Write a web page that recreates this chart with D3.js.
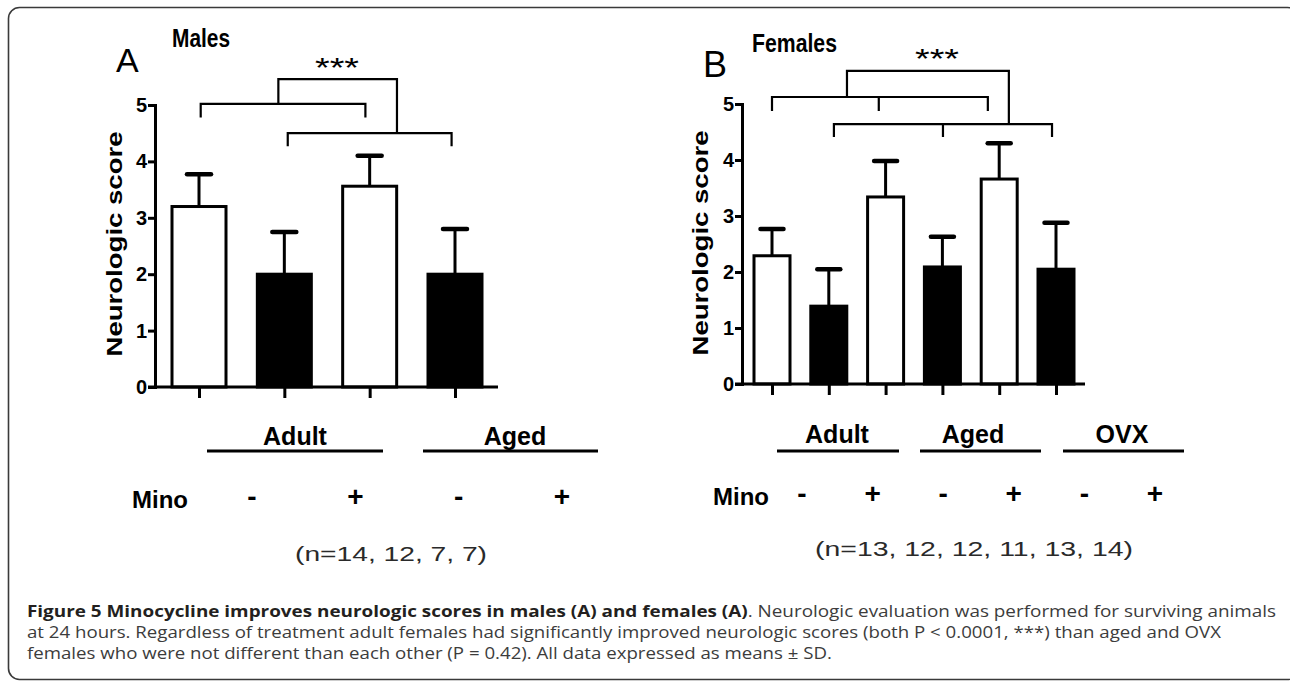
<!DOCTYPE html>
<html>
<head>
<meta charset="utf-8">
<script src="https://cdn.jsdelivr.net/npm/d3@7"></script>
<style>
  body { margin: 0; background: #fff; }
  svg { display: block; }
</style>
</head>
<body>
<svg id="fig" width="1290" height="685"></svg>
<script>
  // ===== data =====
  var yTicks = [0, 1, 2, 3, 4, 5];

  var maleGroups = ['Adult', 'Aged'];
  var maleMino = ['-', '+', '-', '+'];
  var maleMeans = [3.20, 2.00, 3.56, 2.00];
  var maleSD = [0.57, 0.75, 0.54, 0.80];
  var maleN = [14, 12, 7, 7];

  var femaleGroups = ['Adult', 'Aged', 'OVX'];
  var femaleMino = ['-', '+', '-', '+', '-', '+'];
  var femaleMeans = [2.29, 1.39, 3.34, 2.09, 3.66, 2.05];
  var femaleSD = [0.48, 0.66, 0.64, 0.54, 0.64, 0.83];
  var femaleN = [13, 12, 12, 11, 13, 14];

  var captionBold = 'Figure 5 Minocycline improves neurologic scores in males (A) and females (A)';
  var captionRest = '. Neurologic evaluation was performed for surviving animals';
  var captionLine2 = 'at 24 hours. Regardless of treatment adult females had significantly improved neurologic scores (both P < 0.0001, ***) than aged and OVX';
  var captionLine3 = 'females who were not different than each other (P = 0.42). All data expressed as means \u00b1 SD.';

  var CHART_FONT = '"Liberation Sans", Arial, sans-serif';
  var CAPTION_FONT = '"Open Sans", "Noto Sans", sans-serif';

  var svg = d3.select('#fig');

  // 外框（右侧超出画面）
  svg.append('rect')
    .attr('x', 8.5).attr('y', 7.5)
    .attr('width', 1290).attr('height', 672)
    .attr('rx', 11).attr('ry', 11)
    .attr('fill', 'none')
    .attr('stroke', '#3a3a3a')
    .attr('stroke-width', 1.6);

  // ===== panel layout =====
  var panels = [
    {
      letter: 'A', letterX: 116, letterY: 72, letterSize: 34,
      title: 'Males', titleX: 172, titleY: 47, titleW: 58,
      means: maleMeans, sd: maleSD, mino: maleMino, groups: maleGroups, n: maleN,
      axisX: 155, axisEnd: 498, y0: 387, y5: 105,
      barFirst: 199, barLast: 455, barW: 54, capW: 24,
      ylabelX: 122, ylabelY: 244,
      groupX: [295, 515], groupLines: [[207, 383], [423, 598]], groupY: 445, lineY: 451,
      minoX: 132, minoY: 508, signRange: [252, 562], signY: 506,
      nX: 391, nY: 561, nW: 192,
      starsX: 337, starsY: 77,
      brackets: [
        { from: 0.02, to: 1.95, mids: [], y: 5.02, leg: 4.78 },
        { from: 1.04, to: 2.96, mids: [], y: 4.50, leg: 4.27 }
      ],
      connector: { from: 0.93, to: 2.32, top: 5.46, left: 5.02, right: 4.50 }
    },
    {
      letter: 'B', letterX: 703, letterY: 77, letterSize: 36,
      title: 'Females', titleX: 752, titleY: 52, titleW: 85,
      means: femaleMeans, sd: femaleSD, mino: femaleMino, groups: femaleGroups, n: femaleN,
      axisX: 742, axisEnd: 1085, y0: 384, y5: 104,
      barFirst: 772, barLast: 1056, barW: 36, capW: 23,
      ylabelX: 708, ylabelY: 243,
      groupX: [837, 973, 1122], groupLines: [[777, 899], [920, 1041], [1063, 1184]], groupY: 443, lineY: 451,
      minoX: 713, minoY: 505, signRange: [802, 1155], signY: 503,
      nX: 974, nY: 556, nW: 318,
      starsX: 937, starsY: 68,
      brackets: [
        { from: 0.0, to: 3.8, mids: [1.88], y: 5.125, leg: 4.875 },
        { from: 1.09, to: 4.93, mids: [3.01], y: 4.64, leg: 4.41 }
      ],
      connector: { from: 1.32, to: 4.17, top: 5.59, left: 5.125, right: 4.64 }
    }
  ];

  panels.forEach(drawPanel);

  function drawPanel(p) {
    var g = svg.append('g').style('font-family', CHART_FONT);
    var idx = d3.range(p.means.length);

    var y = d3.scaleLinear().domain([0, 5]).range([p.y0, p.y5]);
    var x = d3.scaleLinear().domain([0, p.means.length - 1]).range([p.barFirst, p.barLast]);

    // 面板字母和标题
    g.append('text')
      .attr('x', p.letterX).attr('y', p.letterY)
      .attr('font-size', p.letterSize)
      .attr('fill', '#000')
      .text(p.letter);

    g.append('text')
      .attr('x', p.titleX).attr('y', p.titleY)
      .attr('font-size', 26).attr('font-weight', 'bold')
      .attr('textLength', p.titleW).attr('lengthAdjust', 'spacingAndGlyphs')
      .text(p.title);

    // 柱
    g.append('g')
      .selectAll('rect')
      .data(idx)
      .join('rect')
      .attr('x', function (i) { return x(i) - p.barW / 2; })
      .attr('y', function (i) { return y(p.means[i]); })
      .attr('width', p.barW)
      .attr('height', function (i) { return y(0) - y(p.means[i]); })
      .attr('fill', function (i) { return i % 2 ? '#000' : '#fff'; })
      .attr('stroke', '#000')
      .attr('stroke-width', 3);

    // 误差线（只画上半）
    var err = g.append('g');
    err.selectAll('line.stem')
      .data(idx)
      .join('line')
      .attr('class', 'stem')
      .attr('x1', function (i) { return x(i); })
      .attr('x2', function (i) { return x(i); })
      .attr('y1', function (i) { return y(p.means[i]); })
      .attr('y2', function (i) { return y(p.means[i] + p.sd[i]); })
      .attr('stroke', '#000').attr('stroke-width', 3);
    err.selectAll('line.cap')
      .data(idx)
      .join('line')
      .attr('class', 'cap')
      .attr('x1', function (i) { return x(i) - p.capW / 2; })
      .attr('x2', function (i) { return x(i) + p.capW / 2; })
      .attr('y1', function (i) { return y(p.means[i] + p.sd[i]); })
      .attr('y2', function (i) { return y(p.means[i] + p.sd[i]); })
      .attr('stroke', '#000').attr('stroke-width', 4.5)
      .attr('stroke-linecap', 'round');

    // y 轴
    var yAxis = g.append('g')
      .attr('transform', 'translate(' + p.axisX + ',0)')
      .call(d3.axisLeft(y).tickValues(yTicks).tickFormat(d3.format('d'))
        .tickSize(7).tickSizeOuter(0).tickPadding(1));
    yAxis.select('.domain').attr('stroke-width', 3).attr('stroke-linecap', 'square');
    yAxis.selectAll('.tick line').attr('stroke-width', 3);
    yAxis.selectAll('.tick text')
      .attr('font-size', 20).attr('font-weight', 'bold')
      .attr('font-family', CHART_FONT).attr('fill', '#000');

    // x 轴
    g.append('line')
      .attr('x1', p.axisX - 7).attr('x2', p.axisEnd)
      .attr('y1', p.y0).attr('y2', p.y0)
      .attr('stroke', '#000').attr('stroke-width', 3);
    var xAxis = g.append('g')
      .attr('transform', 'translate(0,' + p.y0 + ')')
      .call(d3.axisBottom(x).tickValues(idx).tickSize(11).tickFormat(''));
    xAxis.select('.domain').remove();
    xAxis.selectAll('.tick line').attr('stroke-width', 3);

    // y 轴标题
    g.append('text')
      .attr('transform', 'translate(' + p.ylabelX + ',' + p.ylabelY + ') rotate(-90)')
      .attr('text-anchor', 'middle')
      .attr('font-size', 22).attr('font-weight', 'bold')
      .attr('textLength', 225).attr('lengthAdjust', 'spacingAndGlyphs')
      .text('Neurologic score');

    // 显著性括号
    var bl = g.append('g')
      .attr('fill', 'none').attr('stroke', '#000').attr('stroke-width', 2.2);
    p.brackets.forEach(function (b) {
      var d = 'M' + x(b.from) + ',' + y(b.leg) + 'V' + y(b.y) + 'H' + x(b.to) + 'V' + y(b.leg);
      b.mids.forEach(function (m) {
        d += 'M' + x(m) + ',' + y(b.y) + 'V' + y(b.leg);
      });
      bl.append('path').attr('d', d);
    });
    var c = p.connector;
    bl.append('path')
      .attr('d', 'M' + x(c.from) + ',' + y(c.left) + 'V' + y(c.top) + 'H' + x(c.to) + 'V' + y(c.right));

    g.append('text')
      .attr('x', p.starsX).attr('y', p.starsY)
      .attr('text-anchor', 'middle')
      .attr('font-size', 27)
      .attr('textLength', 44).attr('lengthAdjust', 'spacingAndGlyphs')
      .text('***');

    // 分组标签与下划线
    g.append('g')
      .selectAll('text')
      .data(p.groups)
      .join('text')
      .attr('x', function (d, i) { return p.groupX[i]; })
      .attr('y', p.groupY)
      .attr('text-anchor', 'middle')
      .attr('font-size', 25).attr('font-weight', 'bold')
      .text(function (d) { return d; });
    g.append('g')
      .selectAll('line')
      .data(p.groupLines)
      .join('line')
      .attr('x1', function (d) { return d[0]; })
      .attr('x2', function (d) { return d[1]; })
      .attr('y1', p.lineY).attr('y2', p.lineY)
      .attr('stroke', '#000').attr('stroke-width', 3);

    // Mino 行
    g.append('text')
      .attr('x', p.minoX).attr('y', p.minoY)
      .attr('font-size', 24).attr('font-weight', 'bold')
      .text('Mino');
    var sx = d3.scalePoint().domain(idx).range(p.signRange);
    g.append('g')
      .selectAll('text')
      .data(p.mino)
      .join('text')
      .attr('x', function (d, i) { return sx(i); })
      .attr('y', p.signY)
      .attr('text-anchor', 'middle')
      .attr('font-size', 28).attr('font-weight', 'bold')
      .text(function (d) { return d; });

    // n 数
    g.append('text')
      .attr('x', p.nX).attr('y', p.nY)
      .attr('text-anchor', 'middle')
      .attr('font-size', 21)
      .attr('fill', '#2a2a2a')
      .attr('textLength', p.nW).attr('lengthAdjust', 'spacingAndGlyphs')
      .text('(n=' + p.n.join(', ') + ')');
  }

  // ===== 图注 =====
  var cap = svg.append('g').style('font-family', CAPTION_FONT).attr('font-size', 16);
  var l1 = cap.append('text').attr('x', 27).attr('y', 617);
  l1.append('tspan').attr('font-weight', 'bold').attr('fill', '#231f20').text(captionBold);
  l1.append('tspan').attr('fill', '#3c3c3c').text(captionRest);
  l1.attr('textLength', 1276 - 27).attr('lengthAdjust', 'spacingAndGlyphs');

  var l2 = cap.append('text').attr('x', 27).attr('y', 638).attr('fill', '#3c3c3c').text(captionLine2);
  var l3 = cap.append('text').attr('x', 27).attr('y', 659).attr('fill', '#3c3c3c').text(captionLine3);
  var ratio = (1221 - 27) / l2.node().getComputedTextLength();
  var w3 = l3.node().getComputedTextLength() * ratio;
  l2.attr('textLength', 1221 - 27).attr('lengthAdjust', 'spacingAndGlyphs');
  l3.attr('textLength', w3).attr('lengthAdjust', 'spacingAndGlyphs');
</script>
</body>
</html>
